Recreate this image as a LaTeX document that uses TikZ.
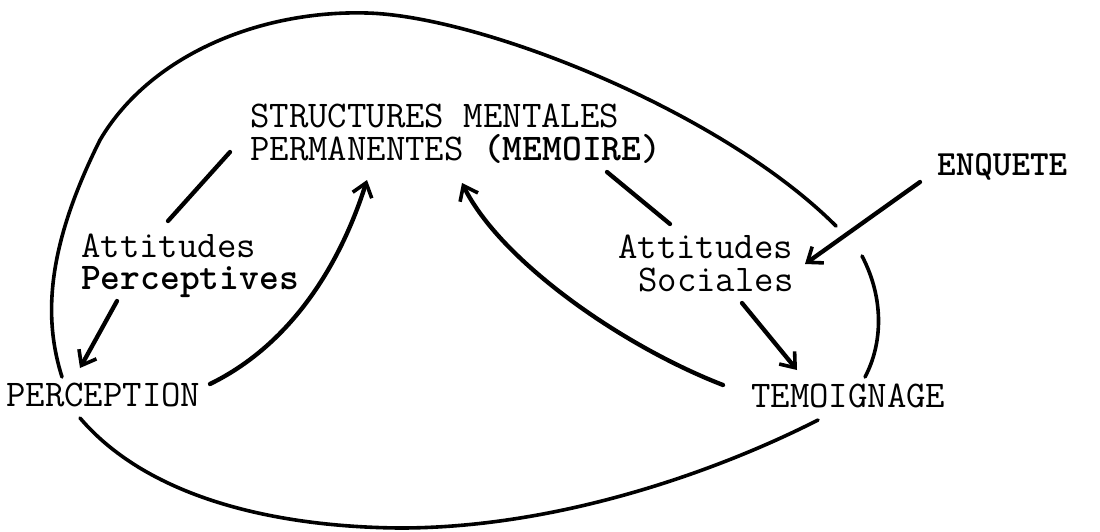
\documentclass[tikz,border=0pt]{standalone}
\usepackage{fontspec}
\setmonofont{Latin Modern Mono}
\newfontfamily\bmono{lmmonolt10-bold}[Extension=.otf]
\usetikzlibrary{arrows.meta}
\tikzset{
  lbl/.style={anchor=base west, inner sep=0pt, text height=23pt, text depth=6pt, font=\ttfamily\fontsize{37.7}{40}\selectfont},
  lblsm/.style={anchor=base west, inner sep=0pt, text height=22pt, text depth=6pt, font=\bmono\fontsize{35.4}{38}\selectfont},
  conn/.style={line width=4.3pt, line cap=round},
  arr/.style={conn, -{Straight Barb[length=13pt,width=20pt,line width=3.6pt]}},
  loop/.style={line width=3.6pt, line cap=round}
}
\begin{document}
\begin{tikzpicture}[x=1pt,y=-1pt]
\fill[white] (0,0) rectangle (1100,531);
\useasboundingbox (0,0) rectangle (1100,531);

% text nodes
\node[lbl] (s1) at (250,127) {STRUCTURES MENTALES};
\node[lbl] (s2) at (250,160) {PERMANENTES {\bmono(MEMOIRE)}};
\node[lbl] (ap1) at (81,257) {Attitudes};
\node[lbl] (ap2) at (81,289) {\bmono Perceptives};
\node[lbl] (per) at (6,406) {PERCEPTION};
\node[lbl] (as1) at (618,258) {Attitudes};
\node[lbl] (as2) at (638,291) {Sociales};
\node[lbl] (tem) at (751,407) {TEMOIGNAGE};
\node[lblsm] (enq) at (937,175) {ENQUETE};

% connector end points
\coordinate (sL) at (230,152);
\coordinate (apT) at (168,221);
\coordinate (apB) at (117,301);
\coordinate (perT) at (80,368);
\coordinate (perR) at (210,384);
\coordinate (sA) at (367,180);
\coordinate (temL) at (723,385);
\coordinate (sB) at (462,183);
\coordinate (sR) at (607,172);
\coordinate (asT) at (670,224);
\coordinate (enqL) at (920,182);
\coordinate (asR) at (805,264);
\coordinate (asB) at (742,303);
\coordinate (temT) at (797,370);

% connectors
\draw[conn] (sL) -- (apT);
\draw[arr] (apB) -- (perT);
\draw[arr] (perR) .. controls (300,340) and (345,250) .. (sA);
\draw[arr] (temL) .. controls (620,345) and (500,260) .. (sB);
\draw[conn] (sR) -- (asT);
\draw[arr] (enqL) -- (asR);
\draw[arr] (asB) -- (temT);

% big loop
\draw[loop] (62,377) .. controls (44,320) and (45,250) .. (100,140)
  .. controls (150,55) and (260,10) .. (367,13)
  .. controls (480,16) and (720,110) .. (836,226);
\draw[loop] (862,256) .. controls (885,300) and (882,345) .. (865,377);
\draw[loop] (80,418) .. controls (150,500) and (280,527) .. (400,528)
  .. controls (560,528) and (720,470) .. (818,420);
\end{tikzpicture}
\end{document}
